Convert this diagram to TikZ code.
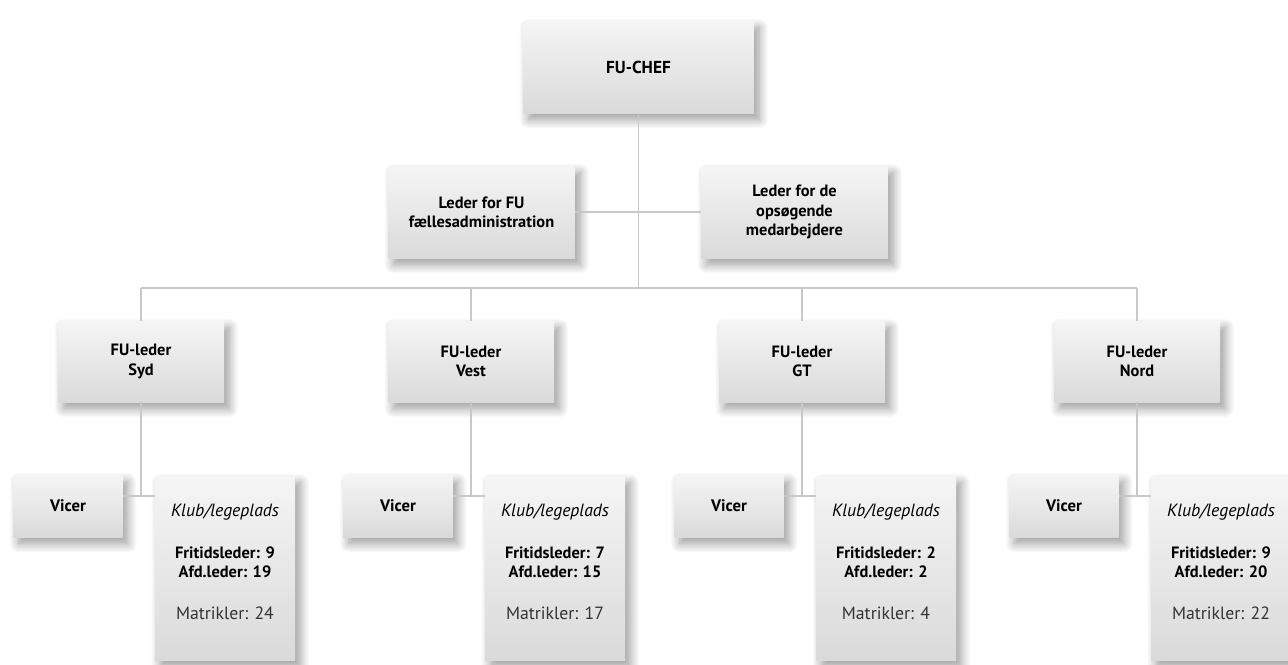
\documentclass[tikz,border=0pt]{standalone}
\usepackage{fontspec}
\setmainfont{PT Sans}
\usepackage{tikz}
\usetikzlibrary{positioning,calc,shadows.blur}

\definecolor{linegray}{HTML}{C8C8C8}
\definecolor{boxtop}{HTML}{F5F5F5}
\definecolor{boxbot}{HTML}{DADADA}
\definecolor{softtext}{HTML}{333333}

\newcommand{\lighttext}[1]{{\fontsize{13.3}{14.5}\selectfont #1}}

\begin{document}
\begin{tikzpicture}[x=0.75pt,y=-0.75pt,
  every node/.style={align=center,font=\fontsize{12.3}{14.5}\selectfont},
  box/.style={rectangle,top color=boxtop,bottom color=boxbot,inner sep=0pt,
    blur shadow={shadow xshift=4pt,shadow yshift=-5pt,shadow blur radius=7pt,shadow blur steps=12,shadow opacity=40}},
  chefbox/.style={box,minimum width=173pt,minimum height=69pt,font=\fontsize{13}{15}\selectfont\bfseries},
  staffbox/.style={box,minimum width=140pt,minimum height=69pt,font=\fontsize{12.3}{14.5}\selectfont\bfseries},
  areabox/.style={box,minimum width=124.5pt,minimum height=60.75pt,font=\fontsize{12.3}{14.5}\selectfont\bfseries},
  vicebox/.style={box,minimum width=81.75pt,minimum height=46.5pt,font=\fontsize{12.5}{14.5}\selectfont\bfseries},
  clubbox/.style={box,minimum width=105pt,minimum height=138pt},
  link/.style={draw=linegray,line width=1.1pt}]
\useasboundingbox (0,0) rectangle (1288,664);

% top
\node[chefbox] (chef) at (638.5,67) {FU-CHEF};
\node[staffbox] (admin) at (481.5,212) {Leder for FU\\fællesadministration};
\node[staffbox] (opsog) at (794.5,212) {Leder for de\\opsøgende\\medarbejdere};
\coordinate (bus) at (638.5,288);
\path[link] (chef) -- (bus);
\path[link] (admin) -- (opsog);

% areas
\node[areabox] (syd) at (141,361.5) {FU-leder\\Syd};
\node[areabox] (vest) at (471,361.5) {FU-leder\\Vest};
\node[areabox] (gt) at (802,361.5) {FU-leder\\GT};
\node[areabox] (nord) at (1137,361.5) {FU-leder\\Nord};
\path[link] (syd.north |- bus) -- (nord.north |- bus);
\path[link] (syd.north |- bus) -- (syd);
\path[link] (vest.north |- bus) -- (vest);
\path[link] (gt.north |- bus) -- (gt);
\path[link] (nord.north |- bus) -- (nord);

% Syd
\node[vicebox] (vsyd) at (68,506) {Vicer};
\node[clubbox] (ksyd) at (225,568) {\lighttext{\textit{Klub/legeplads}}\\[17pt]
  \textbf{Fritidsleder: 9}\\\textbf{Afd.leder: 19}\\[17pt]
  \lighttext{\textcolor{softtext}{Matrikler: 24}}\\[-5pt]\mbox{}};
\coordinate (jsyd) at (141,496);
\path[link] (syd) -- (jsyd);
\path[link] (vsyd.east |- jsyd) -- (ksyd.west |- jsyd);

% Vest
\node[vicebox] (vvest) at (398,506) {Vicer};
\node[clubbox] (kvest) at (555,568) {\lighttext{\textit{Klub/legeplads}}\\[17pt]
  \textbf{Fritidsleder: 7}\\\textbf{Afd.leder: 15}\\[17pt]
  \lighttext{\textcolor{softtext}{Matrikler: 17}}\\[-5pt]\mbox{}};
\coordinate (jvest) at (471,496);
\path[link] (vest) -- (jvest);
\path[link] (vvest.east |- jvest) -- (kvest.west |- jvest);

% GT
\node[vicebox] (vgt) at (729,506) {Vicer};
\node[clubbox] (kgt) at (886,568) {\lighttext{\textit{Klub/legeplads}}\\[17pt]
  \textbf{Fritidsleder: 2}\\\textbf{Afd.leder: 2}\\[17pt]
  \lighttext{\textcolor{softtext}{Matrikler: 4}}\\[-5pt]\mbox{}};
\coordinate (jgt) at (802,496);
\path[link] (gt) -- (jgt);
\path[link] (vgt.east |- jgt) -- (kgt.west |- jgt);

% Nord
\node[vicebox] (vnord) at (1064,506) {Vicer};
\node[clubbox] (knord) at (1221,568) {\lighttext{\textit{Klub/legeplads}}\\[17pt]
  \textbf{Fritidsleder: 9}\\\textbf{Afd.leder: 20}\\[17pt]
  \lighttext{\textcolor{softtext}{Matrikler: 22}}\\[-5pt]\mbox{}};
\coordinate (jnord) at (1137,496);
\path[link] (nord) -- (jnord);
\path[link] (vnord.east |- jnord) -- (knord.west |- jnord);
\end{tikzpicture}
\end{document}
